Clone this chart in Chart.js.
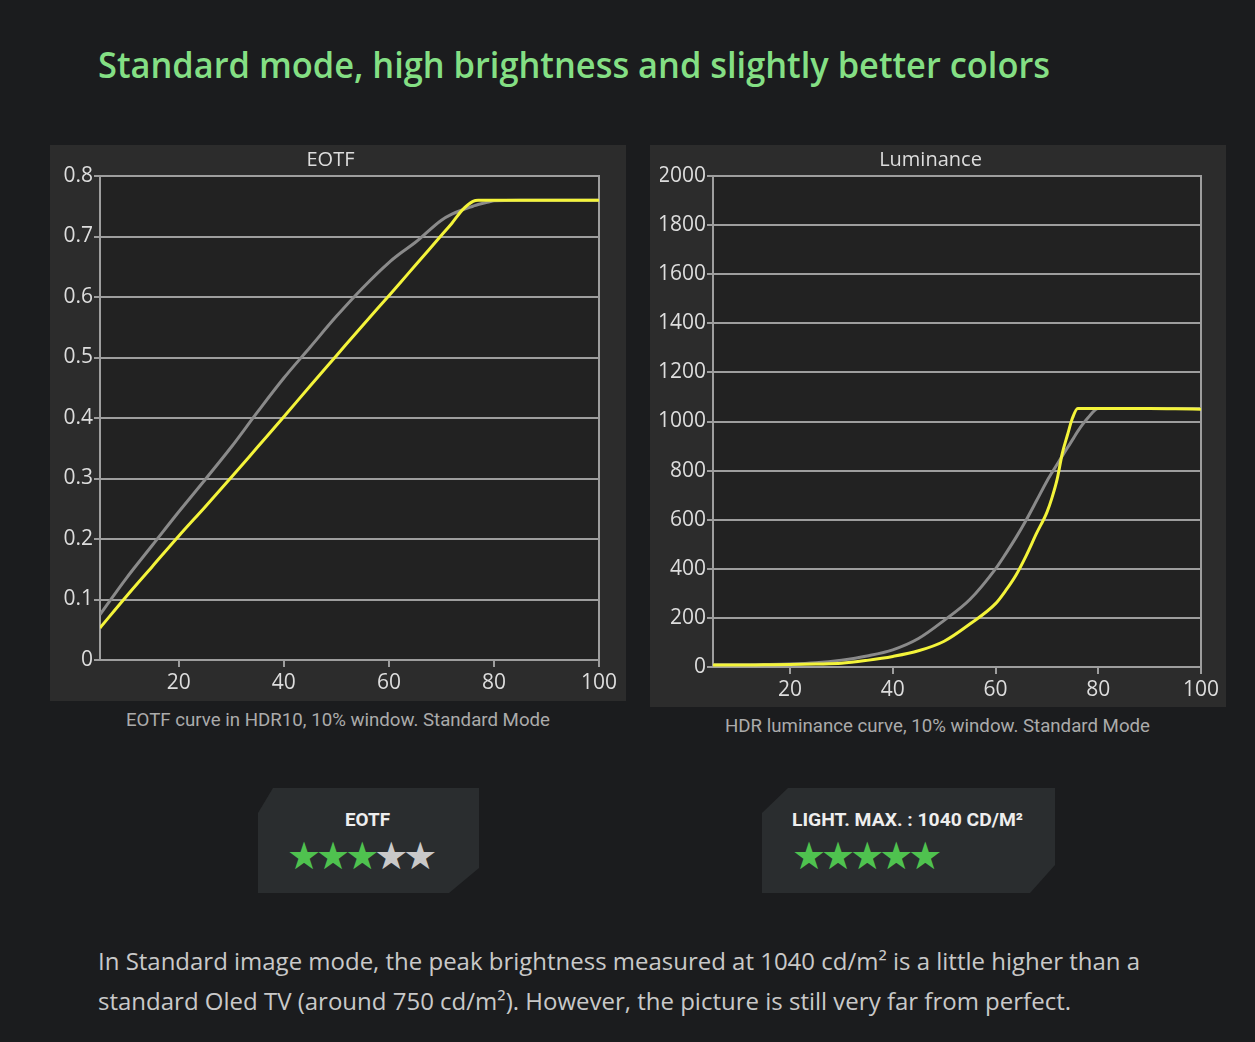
<!DOCTYPE html>
<html><head><meta charset="utf-8">
<script src="https://cdn.jsdelivr.net/npm/chart.js@4.4.1/dist/chart.umd.min.js"></script>
<style>
html,body{margin:0;padding:0;background:#1b1c1e;width:1255px;height:1042px;overflow:hidden;font-family:"Open Sans",sans-serif;}
.abs{position:absolute;}
#title{left:98px;top:40px;color:#84df84;font-family:"Open Sans";font-weight:600;font-size:36px;white-space:nowrap;transform-origin:0 0;line-height:50px;}
.panel{background:#2c2c2c;}
.cap{color:#ababab;font-family:Roboto;font-size:18px;white-space:nowrap;line-height:20px;}
.badge{background:#2a2d2f;}
.btxt{color:#eeeeee;font-family:Roboto;font-weight:700;font-size:18px;white-space:nowrap;line-height:20px;}
.stars{font-family:"DejaVu Sans";font-size:38px;letter-spacing:-5px;line-height:40px;white-space:nowrap;}
.g{color:#4fc24f}.w{color:#c9c9c9}
.body{color:#c9c9c9;font-family:"Open Sans";font-size:23px;white-space:nowrap;line-height:40px;transform-origin:0 0;}
</style></head><body>
<div id="title" class="abs fit" data-w="952">Standard mode, high brightness and slightly better colors</div>

<div class="abs panel" style="left:50px;top:145px;width:576px;height:556px;"><canvas id="c1" width="576" height="556"></canvas></div>
<div class="abs panel" style="left:650px;top:145px;width:576px;height:562px;"><canvas id="c2" width="576" height="562"></canvas></div>

<div class="abs cap fit" data-w="424" style="left:126px;top:710px;">EOTF curve in HDR10, 10% window. Standard Mode</div>
<div class="abs cap fit" data-w="425" style="left:725px;top:716px;">HDR luminance curve, 10% window. Standard Mode</div>

<div class="abs badge" style="left:258px;top:788px;width:221px;height:105px;clip-path:polygon(15px 0,100% 0,100% 80px,191px 100%,0 100%,0 25px);"></div>
<div class="abs btxt fit" data-w="45" style="left:345px;top:810px;">EOTF</div>
<div class="abs stars" style="left:287px;top:836px;"><span class="g">★★★</span><span class="w">★★</span></div>

<div class="abs badge" style="left:762px;top:788px;width:293px;height:105px;clip-path:polygon(26px 0,100% 0,100% 77px,268px 100%,0 100%,0 25px);"></div>
<div class="abs btxt fit" data-w="231" style="left:792px;top:810px;">LIGHT. MAX. : 1040 CD/M²</div>
<div class="abs stars" style="left:792px;top:836px;"><span class="g">★★★★★</span></div>

<div class="abs body fit" data-w="1042" style="left:98px;top:941px;">In Standard image mode, the peak brightness measured at 1040 cd/m² is a little higher than a</div>
<div class="abs body fit" data-w="973" style="left:98px;top:981px;">standard Oled TV (around 750 cd/m²). However, the picture is still very far from perfect.</div>

<script>
// ---- data ----
const eotfX        = [5, 10, 15, 20, 25, 30, 35, 40, 45, 50, 55, 60, 62, 65, 70, 72, 74, 76, 77, 79, 80, 85, 90, 95, 100];
const eotfTarget   = [0.075, 0.135, 0.19, 0.245, 0.298, 0.352, 0.41, 0.466, 0.517, 0.568, 0.615, 0.657, 0.671, 0.69, 0.727, 0.737, 0.744, 0.75, 0.753, 0.757, 0.759, 0.76, 0.76, 0.76, 0.76];
const eotfMeasured = [0.053, 0.105, 0.155, 0.205, 0.253, 0.302, 0.352, 0.402, 0.453, 0.503, 0.553, 0.602, 0.622, 0.652, 0.702, 0.722, 0.744, 0.758, 0.76, 0.76, 0.76, 0.76, 0.76, 0.76, 0.76];

const lumX        = [5, 10, 15, 20, 25, 30, 35, 40, 45, 50, 55, 60, 62, 64, 66, 68, 70, 71, 72, 73, 74, 75, 76, 78, 80, 85, 90, 95, 100];
const lumTarget   = [9, 9, 10, 12, 17, 28, 45, 70, 116, 190, 275, 400, 462, 528, 600, 678, 757, 792, 826, 860, 893, 926, 960, 1015, 1053, 1053, 1053, 1053, 1053];
const lumMeasured = [8, 8, 9, 10, 12, 15, 27, 43, 66, 105, 175, 258, 312, 375, 455, 545, 630, 690, 765, 870, 945, 1015, 1053, 1053, 1053, 1053, 1053, 1052, 1050];

const xTickValues = [20, 40, 60, 80, 100];
const eotfRange = [0, 0.8, 0.1];
const lumRange = [0, 2000, 200];
const xRange = [5, 100];

// ---- layout helpers ----
document.querySelectorAll('.fit').forEach(el => {
  const w = el.getBoundingClientRect().width;
  const target = +el.dataset.w;
  el.style.transformOrigin = '0 0';
  el.style.transform = 'scaleX(' + (target / w) + ')';
});

const GRID = '#9e9e9e';
const FONT = {family: '"Open Sans", sans-serif', size: 21};
const frame = {
  id: 'frame',
  beforeDraw(chart) {
    const a = chart.chartArea, ctx = chart.ctx;
    ctx.save(); ctx.fillStyle = '#222222';
    ctx.fillRect(a.left, a.top, a.right - a.left, a.bottom - a.top);
    ctx.restore();
  },
  beforeDatasetsDraw(chart) {
    const a = chart.chartArea, ctx = chart.ctx;
    ctx.save(); ctx.strokeStyle = GRID; ctx.lineWidth = 2;
    ctx.strokeRect(a.left, a.top, a.right - a.left, a.bottom - a.top);
    ctx.restore();
  }
};
const pts = (xs, ys) => xs.map((x, i) => ({x, y: ys[i]}));

function make(id, title, xs, meas, targ, range, padL, yW, xH, padR) {
  new Chart(document.getElementById(id), {
    type: 'line',
    data: {datasets: [
      {data: pts(xs, meas), borderColor: '#f4f43a', borderWidth: 3, pointRadius: 0, cubicInterpolationMode: 'monotone', order: 0},
      {data: pts(xs, targ), borderColor: '#8a8a8a', borderWidth: 3, pointRadius: 0, cubicInterpolationMode: 'monotone', order: 1}
    ]},
    options: {
      responsive: false, animation: false, events: [],
      layout: {padding: {left: padL, right: padR, top: 0, bottom: 0}},
      plugins: {
        legend: {display: false}, tooltip: {enabled: false},
        title: {display: true, text: title, color: '#dddddd', font: {family: '"Open Sans", sans-serif', size: 20, weight: 'normal'}, padding: {top: 3, bottom: 4}}
      },
      scales: {
        x: {
          type: 'linear', min: xRange[0], max: xRange[1],
          afterBuildTicks: s => { s.ticks = xTickValues.map(v => ({value: v})); },
          afterFit: s => { s.height = xH; },
          grid: {drawOnChartArea: false, drawTicks: true, tickLength: 7, color: GRID, lineWidth: 2},
          border: {display: true, color: GRID, width: 2},
          ticks: {color: '#dddddd', font: FONT, padding: 3, maxRotation: 0, autoSkip: false}
        },
        y: {
          min: range[0], max: range[1],
          afterFit: s => { s.width = yW; },
          grid: {color: GRID, lineWidth: 2, tickLength: 6},
          border: {display: true, color: GRID, width: 2},
          ticks: {stepSize: range[2], color: '#dddddd', font: FONT, padding: 1, callback: v => String(Math.round(v * 10) / 10)}
        }
      }
    },
    plugins: [frame]
  });
}
make('c1', 'EOTF', eotfX, eotfMeasured, eotfTarget, eotfRange, 12, 38, 41, 27);
make('c2', 'Luminance', lumX, lumMeasured, lumTarget, lumRange, 10, 53, 40, 25);
</script>
</body></html>
